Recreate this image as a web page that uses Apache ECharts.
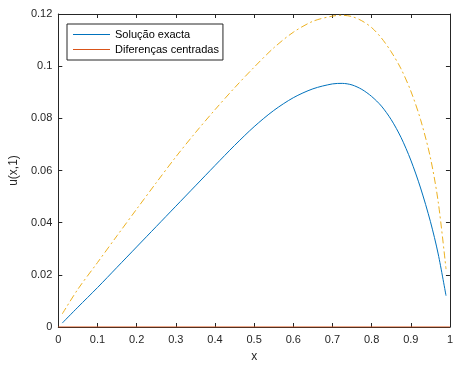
<!DOCTYPE html>
<html>
<head>
<meta charset="utf-8">
<script src="https://cdn.jsdelivr.net/npm/echarts@6/dist/echarts.min.js"></script>
<style>html,body{margin:0;padding:0;background:#fff;}#c{width:456px;height:368px;}</style>
</head>
<body>
<div id="c"></div>
<script>
var xValues      = [0.01, 0.05, 0.1, 0.15, 0.2, 0.25, 0.3, 0.35, 0.4, 0.45, 0.5, 0.55, 0.6, 0.65, 0.7, 0.725, 0.75, 0.775, 0.8, 0.825, 0.85, 0.875, 0.9, 0.925, 0.95, 0.97, 0.99];
var exactValues  = [0.0015, 0.0076, 0.0151, 0.0229, 0.0307, 0.0385, 0.0463, 0.0541, 0.0619, 0.0696, 0.0768, 0.0830, 0.0879, 0.0913, 0.0932, 0.0934, 0.0928, 0.0911, 0.0884, 0.0847, 0.0795, 0.0727, 0.0640, 0.0533, 0.0405, 0.0280, 0.0120];
var dashValues   = [0.0050, 0.0145, 0.0247, 0.0350, 0.0452, 0.0553, 0.0652, 0.0745, 0.0833, 0.0917, 0.0996, 0.1070, 0.1130, 0.1172, 0.1192, 0.1195, 0.1190, 0.1174, 0.1148, 0.1108, 0.1055, 0.0990, 0.0905, 0.0795, 0.0650, 0.0480, 0.0222];
var centredX     = [0, 1];
var centredValues = [0, 0];
var xTicks = [0, 0.1, 0.2, 0.3, 0.4, 0.5, 0.6, 0.7, 0.8, 0.9, 1];
var yTicks = [0, 0.02, 0.04, 0.06, 0.08, 0.1, 0.12];
var legendNames = ['Solução exacta', 'Diferenças centradas'];

function pairs(xs, ys) { return xs.map(function (x, i) { return [x, ys[i]]; }); }
function fmt(v) { return String(parseFloat(v.toFixed(4))); }

var axisCol = '#262626';
var font = 'Liberation Sans, Arial, sans-serif';
var chart = echarts.init(document.getElementById('c'), null, {renderer: 'canvas'});
var baseX = {
  type: 'value', min: xTicks[0], max: xTicks[xTicks.length - 1], interval: 0.1,
  axisLine: {show: true, onZero: false, lineStyle: {color: axisCol, width: 1}},
  axisTick: {show: true, inside: true, length: 4, lineStyle: {color: axisCol}},
  splitLine: {show: false}
};
var baseY = {
  type: 'value', min: yTicks[0], max: yTicks[yTicks.length - 1], interval: 0.02,
  axisLine: {show: true, onZero: false, lineStyle: {color: axisCol, width: 1}},
  axisTick: {show: true, inside: true, length: 4, lineStyle: {color: axisCol}},
  splitLine: {show: false}
};
chart.setOption({
  animation: false,
  backgroundColor: '#fff',
  grid: {left: 55, right: 3, top: 14, bottom: 40, containLabel: false},
  legend: {
    data: legendNames, orient: 'vertical', left: 67, top: 24,
    icon: 'rect', itemWidth: 37, itemHeight: 1, itemGap: 4,
    padding: [5, 4, 5, 6],
    backgroundColor: '#fff', borderColor: axisCol, borderWidth: 1,
    textStyle: {fontFamily: font, fontSize: 11, color: '#000', padding: [0, 0, 0, 0]},
    selectedMode: false
  },
  xAxis: [
    Object.assign({}, baseX, {
      position: 'bottom', name: 'x', nameLocation: 'middle', nameGap: 24,
      nameTextStyle: {fontFamily: font, fontSize: 12, color: axisCol},
      axisLabel: {fontFamily: font, fontSize: 11, color: axisCol, margin: 7, formatter: fmt}
    }),
    Object.assign({}, baseX, {position: 'top', axisLabel: {show: false}})
  ],
  yAxis: [
    Object.assign({}, baseY, {
      position: 'left', name: 'u(x,1)', nameLocation: 'middle', nameGap: 34, nameRotate: 90,
      nameTextStyle: {fontFamily: font, fontSize: 12, color: axisCol},
      axisLabel: {fontFamily: font, fontSize: 11, color: axisCol, margin: 6, formatter: fmt}
    }),
    Object.assign({}, baseY, {position: 'right', axisLabel: {show: false}})
  ],
  series: [
    {
      name: legendNames[0], type: 'line', data: pairs(xValues, exactValues),
      showSymbol: false, symbol: 'none', smooth: 0.3,
      lineStyle: {color: '#0072BD', width: 1}, itemStyle: {color: '#0072BD'}
    },
    {
      name: legendNames[1], type: 'line', data: pairs(centredX, centredValues),
      showSymbol: false, symbol: 'none',
      lineStyle: {color: '#D95319', width: 1}, itemStyle: {color: '#D95319'}
    },
    {
      name: 'dashdot', type: 'line', data: pairs(xValues, dashValues),
      showSymbol: false, symbol: 'none', smooth: 0.3,
      lineStyle: {color: '#EDB120', width: 1, type: [7, 3, 2, 3]}, itemStyle: {color: '#EDB120'}
    }
  ]
});
</script>
</body>
</html>
